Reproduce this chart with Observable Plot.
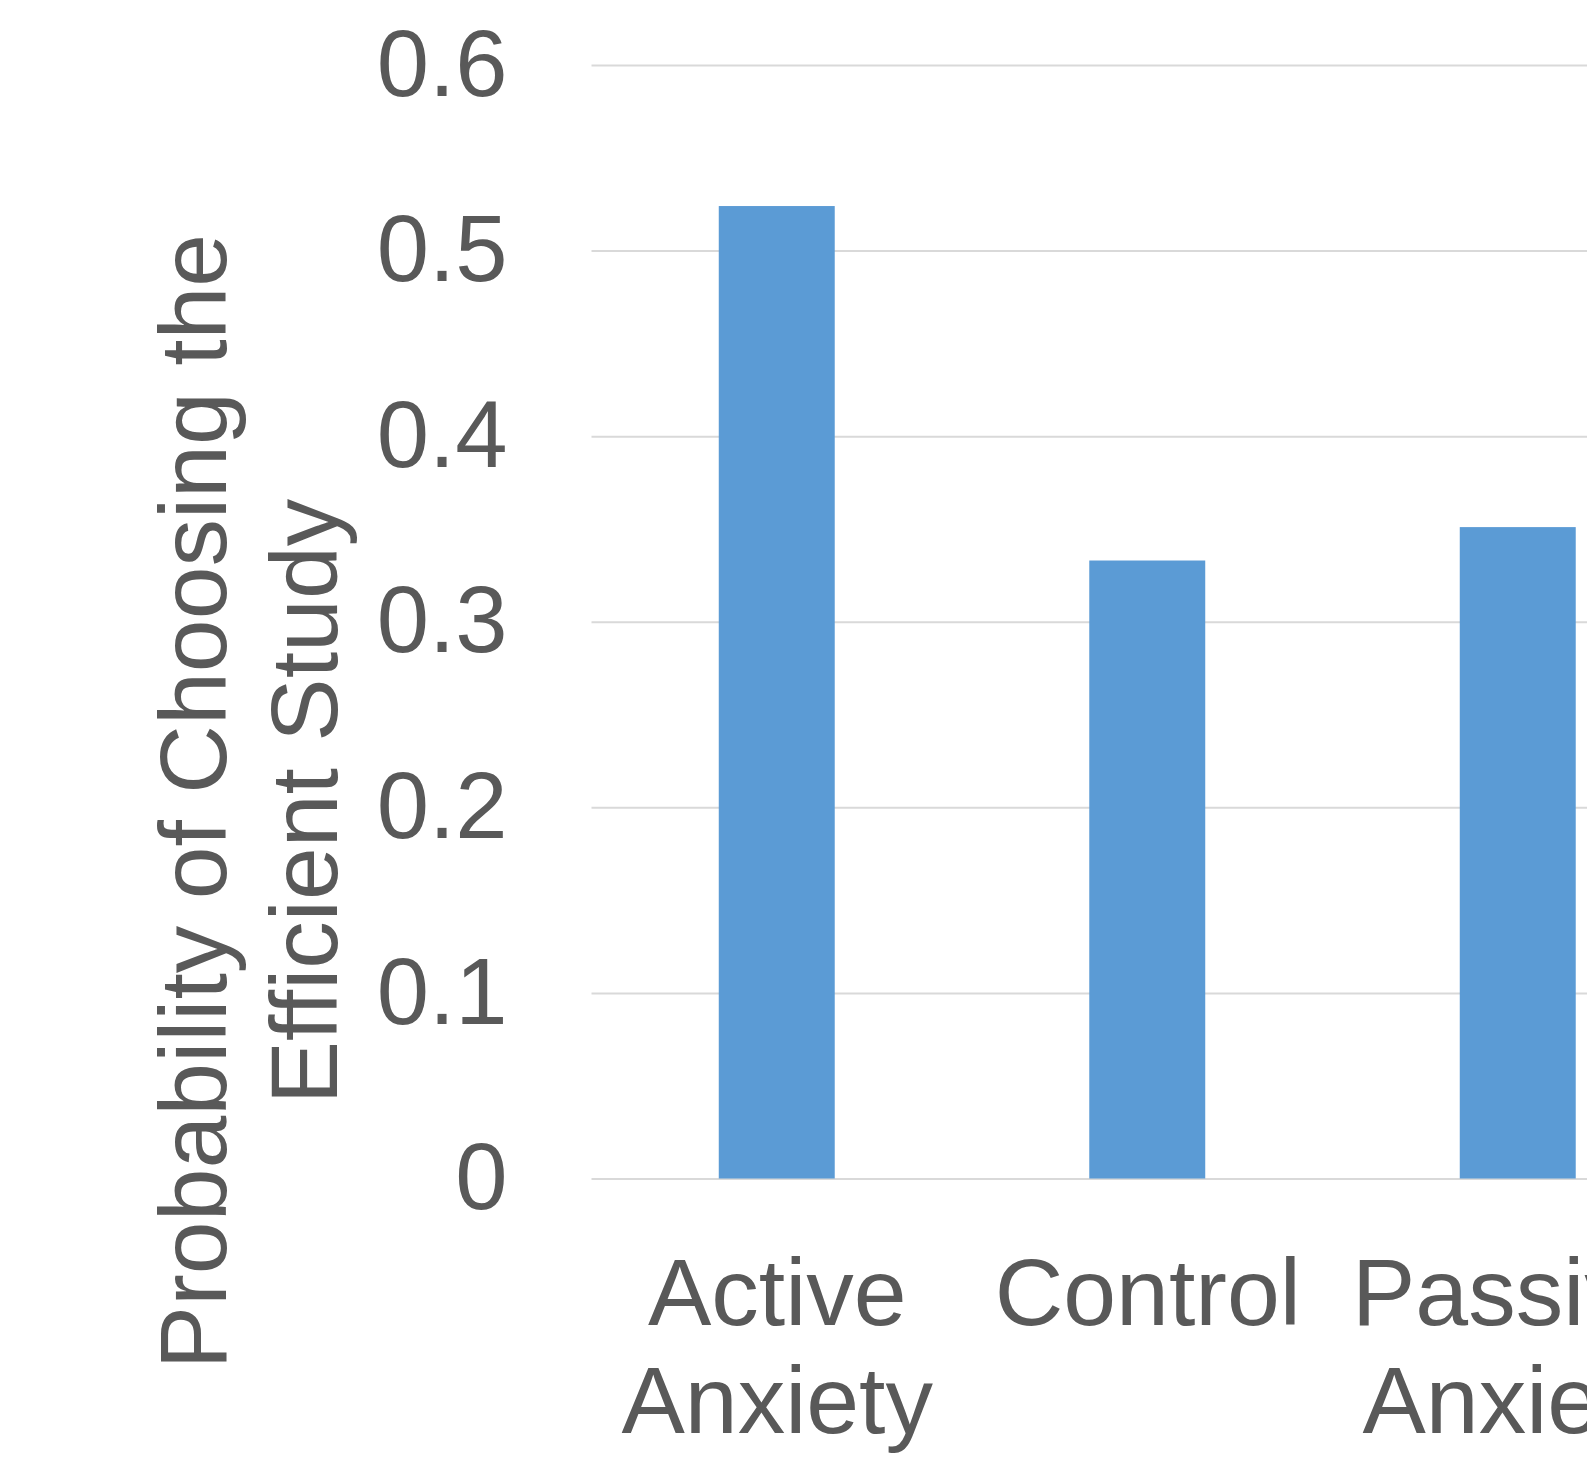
<!DOCTYPE html>
<html>
<head>
<meta charset="utf-8">
<script src="https://cdn.jsdelivr.net/npm/d3@7"></script>
<script src="https://cdn.jsdelivr.net/npm/@observablehq/plot@0.6"></script>
<style>
  html, body { margin: 0; padding: 0; background: #fff; overflow: hidden; }
  #chart { width: 1587px; height: 1474px; overflow: hidden; }
  #chart svg { display: block; max-width: none !important; width: 1703px !important; height: 1474px !important; }
</style>
</head>
<body>
<div id="chart"></div>
<script>
// Groups and the share of participants choosing the efficient study
const categories = ["Active Anxiety", "Control", "Passive Anxiety"];
const probabilities = [0.524, 0.333, 0.351];

// Category labels as wrapped on two lines
const labelLine1 = ["Active", "Control", "Passive"];
const labelLine2 = ["Anxiety", "", "Anxiety"];

// Value axis ticks
const yTicks = [0, 0.1, 0.2, 0.3, 0.4, 0.5, 0.6];

const yTitle = "Probability of Choosing the\nEfficient Study";

const data = categories.map((c, i) => ({category: c, value: probabilities[i]}));

const textColor = "#595959";
const font = "'Liberation Sans', Arial, sans-serif";

const chart = Plot.plot({
  width: 1703,
  height: 1474,
  marginLeft: 591.5,
  marginRight: 0,
  marginTop: 65,
  marginBottom: 295.5,
  style: {fontFamily: font, background: "#fff", overflow: "visible", maxWidth: "none"},
  x: {domain: categories, paddingInner: 0.687, paddingOuter: 0.3435, round: false, axis: null},
  y: {domain: [0, 0.6], axis: null},
  marks: [
    Plot.ruleY(yTicks, {stroke: "#d9d9d9", strokeWidth: 2}),
    Plot.barY(data, {x: "category", y: "value", fill: "#5b9bd5"}),
    // value tick labels
    Plot.text(yTicks, {
      y: d => d, text: d => String(d), frameAnchor: "left",
      textAnchor: "end", lineAnchor: "middle", dx: -84.5,
      fontSize: 94, fill: textColor
    }),
    // category labels, first and second line
    Plot.text(categories, {
      x: d => d, text: (d, i) => labelLine1[i], frameAnchor: "bottom",
      lineAnchor: "bottom", dy: 145.5, fontSize: 95, fill: textColor
    }),
    Plot.text(categories, {
      x: d => d, text: (d, i) => labelLine2[i], frameAnchor: "bottom",
      lineAnchor: "bottom", dy: 253.5, fontSize: 95, fill: textColor
    }),
    // rotated value-axis title
    Plot.text([yTitle], {
      text: d => d, frameAnchor: "left", rotate: -90,
      textAnchor: "middle", lineAnchor: "middle", lineHeight: 1.165,
      dx: -345.6, dy: 179.25, fontSize: 95, fill: textColor
    })
  ]
});

document.getElementById("chart").appendChild(chart);
</script>
</body>
</html>
